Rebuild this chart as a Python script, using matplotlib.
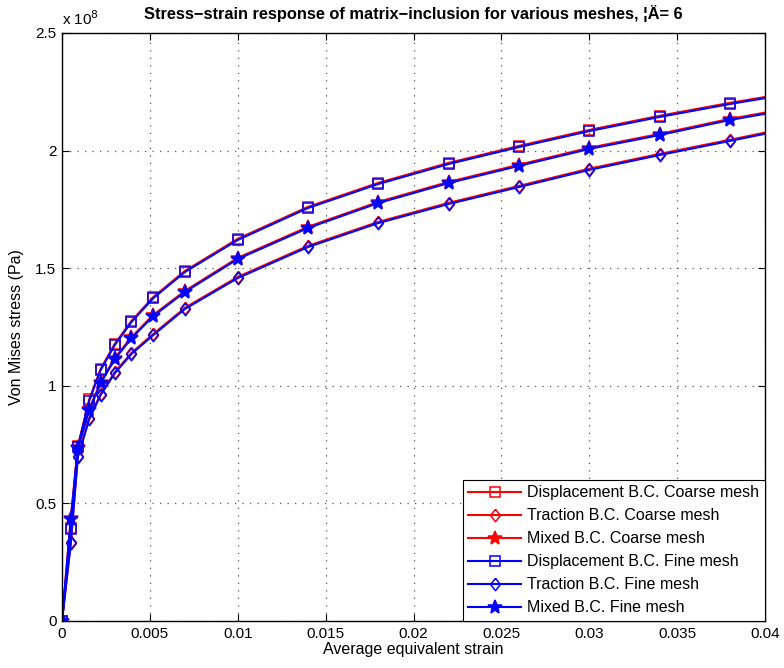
import numpy as np
import matplotlib
matplotlib.use('Agg')
import matplotlib.pyplot as plt
from matplotlib.ticker import FuncFormatter

plt.rcParams['font.family'] = ['Liberation Sans', 'DejaVu Sans']

# average equivalent strain at each load step
strain = [0, 0.0005, 0.0009, 0.00155, 0.0022, 0.003, 0.00395, 0.0052, 0.007,
          0.01, 0.014, 0.018, 0.022, 0.026, 0.03, 0.034, 0.038, 0.042]

# von Mises stress, units of 1e8 Pa
disp_coarse = [0, 0.395, 0.744, 0.942, 1.072, 1.178, 1.276, 1.378, 1.489,
               1.625, 1.761, 1.863, 1.948, 2.020, 2.088, 2.148, 2.203, 2.253]
trac_coarse = [0, 0.335, 0.701, 0.863, 0.966, 1.058, 1.140, 1.221, 1.332,
               1.463, 1.595, 1.697, 1.778, 1.850, 1.923, 1.986, 2.046, 2.107]
mixed_coarse = [0, 0.437, 0.739, 0.902, 1.016, 1.118, 1.207, 1.302, 1.404,
                1.544, 1.676, 1.782, 1.867, 1.940, 2.012, 2.071, 2.135, 2.188]

disp_fine = [0, 0.39, 0.739, 0.937, 1.067, 1.173, 1.271, 1.373, 1.484,
             1.62, 1.756, 1.858, 1.943, 2.015, 2.083, 2.143, 2.198, 2.248]
trac_fine = [0, 0.33, 0.696, 0.858, 0.961, 1.053, 1.135, 1.216, 1.327,
             1.458, 1.59, 1.692, 1.773, 1.845, 1.918, 1.981, 2.041, 2.102]
mixed_fine = [0, 0.432, 0.734, 0.897, 1.011, 1.113, 1.202, 1.297, 1.399,
              1.539, 1.671, 1.777, 1.862, 1.935, 2.007, 2.066, 2.13, 2.183]

labels = ['Displacement B.C. Coarse mesh', 'Traction B.C. Coarse mesh',
          'Mixed B.C. Coarse mesh', 'Displacement B.C. Fine mesh',
          'Traction B.C. Fine mesh', 'Mixed B.C. Fine mesh']

series = [disp_coarse, trac_coarse, mixed_coarse, disp_fine, trac_fine, mixed_fine]
colors = ['#ff0000'] * 3 + ['#0000ff'] * 3

# matlab-ish diamond, a bit taller than wide
diamond = [(0, 1), (0.78, 0), (0, -1), (-0.78, 0), (0, 1)]
markers = ['s', diamond, '*'] * 2
sizes = [7, 9, 10.5] * 2

fig = plt.figure(figsize=(7.84, 6.68), dpi=100)
ax = fig.add_axes([62 / 784, 47 / 668, 703 / 784, 588 / 668])

x = np.array(strain)
for vals, c, m, ms, lab in zip(series, colors, markers, sizes, labels):
    y = np.array(vals) * 1e8
    face = c if m == '*' else 'none'
    ax.plot(x, y, color=c, marker=m, markersize=ms, markerfacecolor=face,
            markeredgecolor=c, markeredgewidth=1.1, linewidth=1.5, label=lab)

ax.set_xlim(0, 0.04)
ax.set_ylim(0, 2.5e8)
ax.set_xticks(np.arange(0, 0.0401, 0.005))
ax.set_yticks(np.arange(0, 2.51e8, 0.5e8))
ax.xaxis.set_major_formatter(FuncFormatter(lambda v, p: '0' if v == 0 else f'{v:g}'))
ax.yaxis.set_major_formatter(FuncFormatter(lambda v, p: f'{v / 1e8:g}'))
ax.tick_params(direction='in', top=True, right=True, length=5, width=0.8,
               labelsize=11, pad=4)
ax.grid(True, linestyle=(0, (1, 5)), color='#555555', linewidth=0.9)
for s in ax.spines.values():
    s.set_linewidth(1.0)

ax.text(0, 1.008, r'x 10$^{8}$', transform=ax.transAxes, fontsize=11,
        ha='left', va='bottom')
ax.set_title('Stress\u2212strain response of matrix\u2212inclusion for various meshes, \u00a6\u00c4= 6',
             fontsize=11.8, fontweight='bold', pad=10)
ax.set_xlabel('Average equivalent strain', fontsize=11.5, labelpad=1)
ax.set_ylabel('Von Mises stress (Pa)', fontsize=11.5, labelpad=8)

leg = ax.legend(loc='lower right', fontsize=11.5, fancybox=False, framealpha=1,
                edgecolor='black', borderaxespad=0, handlelength=3.3,
                labelspacing=0.5, handletextpad=0.4, borderpad=0.35)
leg.get_frame().set_linewidth(0.8)

fig.savefig('out.png', dpi=100)
